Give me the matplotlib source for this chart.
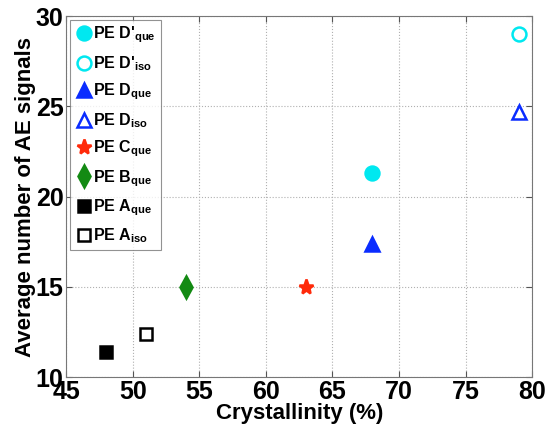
import matplotlib
matplotlib.use("Agg")
import matplotlib.pyplot as plt

plt.rcParams['font.family'] = ['Liberation Sans', 'DejaVu Sans']
plt.rcParams['font.weight'] = 'bold'
plt.rcParams['mathtext.fontset'] = 'custom'
plt.rcParams['mathtext.rm'] = 'Liberation Sans:bold'
plt.rcParams['mathtext.bf'] = 'Liberation Sans:bold'
plt.rcParams['mathtext.default'] = 'bf'

# data
labels = ["PE D'$_{que}$", "PE D'$_{iso}$", "PE D$_{que}$", "PE D$_{iso}$",
          "PE C$_{que}$", "PE B$_{que}$", "PE A$_{que}$", "PE A$_{iso}$"]
crystallinity = [68, 79, 68, 79, 63, 54, 48, 51]
ae_signals = [21.3, 29.0, 17.4, 24.7, 15.0, 15.0, 11.4, 12.4]

markers = ['o', 'o', '^', '^', '*', 'd', 's', 's']
colors = ['#00e8f0', '#00e8f0', '#0a2cff', '#0a2cff', '#ff2a0a', '#138a13', 'black', 'black']
filled = [True, False, True, False, True, True, True, False]
sizes = [10, 10, 10, 10, 11, 11, 9, 9]

fig = plt.figure(figsize=(5.47, 4.34), dpi=100)
ax = fig.add_axes([0.121, 0.131, 0.852, 0.832])

for x, y, lab, m, c, f, s in zip(crystallinity, ae_signals, labels, markers, colors, filled, sizes):
    ax.plot(x, y, linestyle='none', marker=m, markersize=s, markeredgewidth=1.8,
            markeredgecolor=c, markerfacecolor=c if f else 'white', label=lab)

ax.set_xlim(45, 80)
ax.set_ylim(10, 30)
ax.set_xticks(range(45, 81, 5))
ax.set_yticks(range(10, 31, 5))
ax.grid(True, linestyle=':', color='#b0b0b0', linewidth=0.8)
ax.tick_params(direction='in', labelsize=18, length=4, color='#555555', top=True, right=True,
               labeltop=False, labelright=False, pad=2)
for lb in ax.get_xticklabels() + ax.get_yticklabels():
    lb.set_fontweight('bold')
for sp in ax.spines.values():
    sp.set_color('#777777')

ax.set_xlabel('Crystallinity (%)', fontsize=16, fontweight='bold', labelpad=-1)
ax.set_ylabel('Average number of AE signals', fontsize=16, fontweight='bold', labelpad=0)

leg = ax.legend(loc='upper left', fontsize=11.5, frameon=True, fancybox=False,
                handletextpad=0.05, handlelength=1.1, borderpad=0.3, labelspacing=0.55,
                borderaxespad=0.25, edgecolor='#777777')
leg.get_frame().set_linewidth(0.8)

fig.savefig('out.png', dpi=100)
